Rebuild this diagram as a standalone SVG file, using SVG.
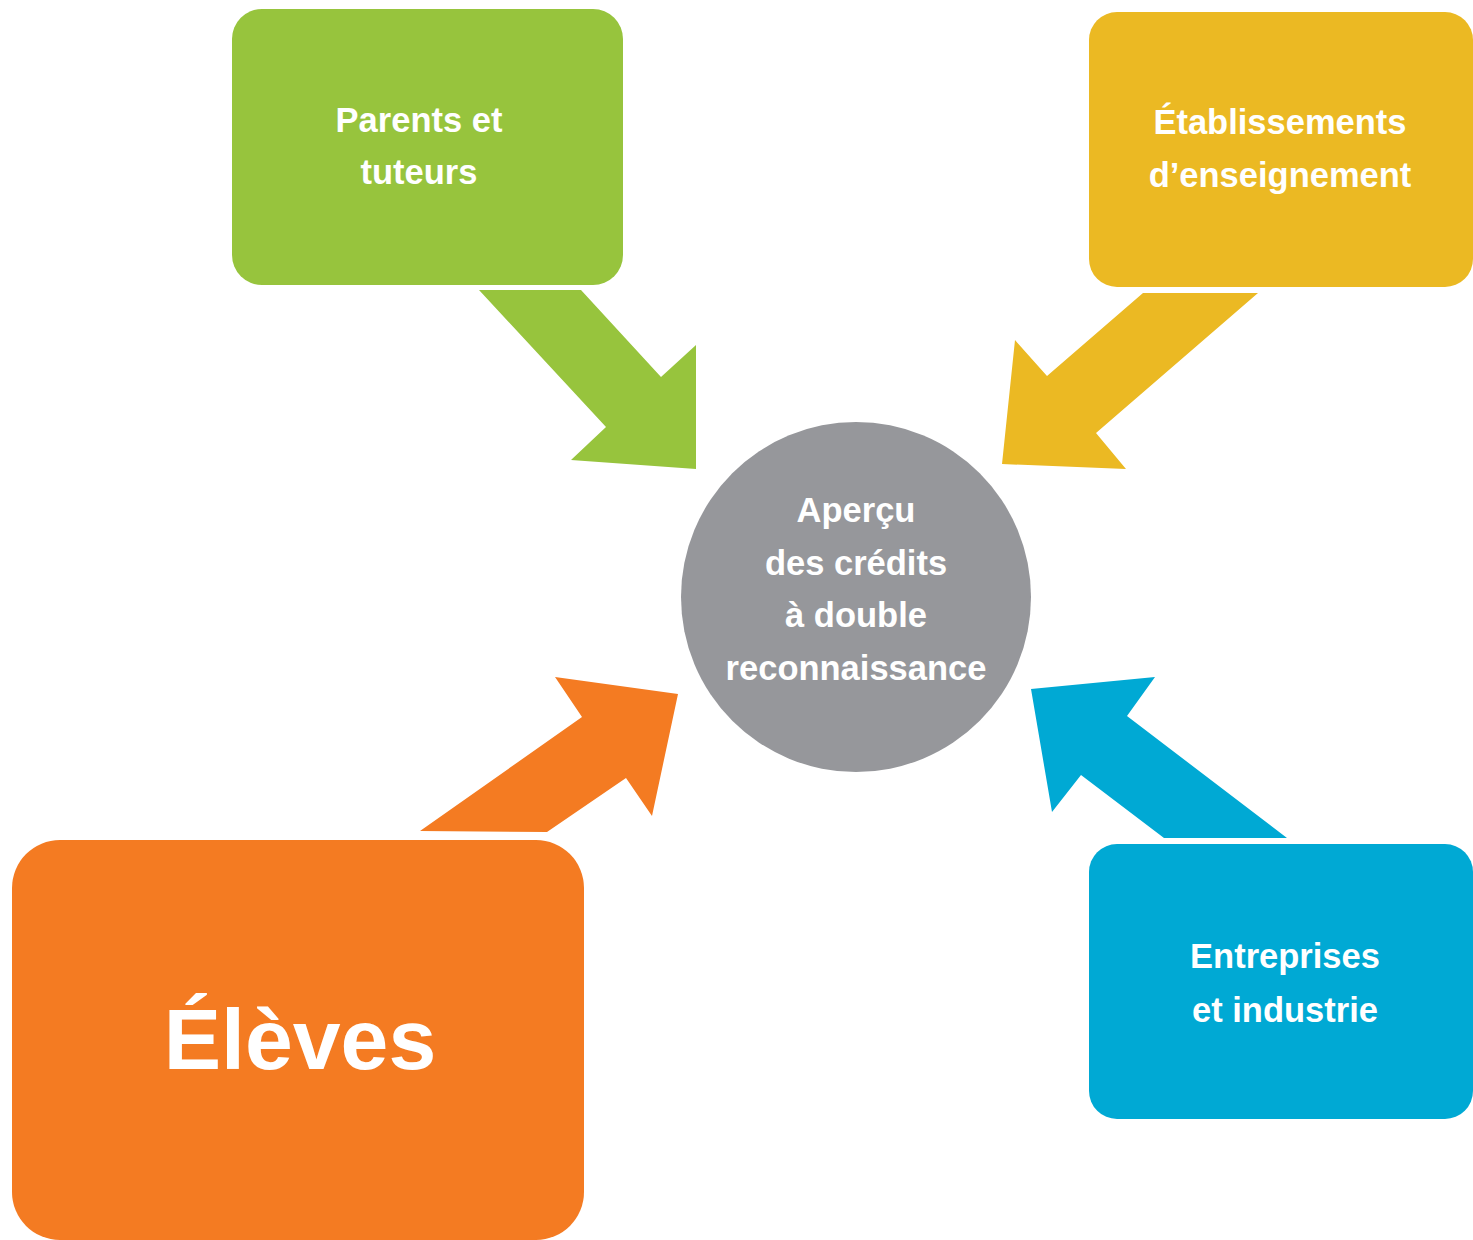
<svg xmlns="http://www.w3.org/2000/svg" width="1473" height="1240" viewBox="0 0 1473 1240">
  <style>
    .lbl { font-family: "Liberation Sans", Arial, sans-serif; font-weight: bold; fill: #ffffff; text-anchor: middle; font-size: 34.5px; }
    .big { font-size: 86px; }
  </style>
  <rect width="1473" height="1240" fill="#ffffff"/>
  <g id="connectors">
    <polygon id="arrow-parents" fill="#97C43D" points="479,290 581,290 661,377 696,345 696,469 571,460 606,427"/>
    <polygon id="arrow-etablissements" fill="#EBB923" points="1143,293 1258,293 1096,433 1126,469 1002,464 1015,340 1047,376"/>
    <polygon id="arrow-eleves" fill="#F47B22" points="420,831 547,832 626,778 652,816 678,694 555,677 582,717"/>
    <polygon id="arrow-entreprises" fill="#00A9D4" points="1287,838 1164,838 1081,775 1052,812 1031,689 1155,677 1127,716"/>
  </g>
  <g id="node-parents">
    <rect x="232" y="9" width="391" height="276" rx="30" fill="#97C43D"/>
    <text class="lbl" x="419" y="132">Parents et</text>
    <text class="lbl" x="419" y="184">tuteurs</text>
  </g>
  <g id="node-etablissements">
    <rect x="1089" y="12" width="384" height="275" rx="28" fill="#EBB923"/>
    <text class="lbl" x="1280" y="134">Établissements</text>
    <text class="lbl" x="1280" y="187">d’enseignement</text>
  </g>
  <g id="node-center">
    <circle cx="856" cy="597" r="175" fill="#96979B"/>
    <text class="lbl" x="856" y="522">Aperçu</text>
    <text class="lbl" x="856" y="575">des crédits</text>
    <text class="lbl" x="856" y="627">à double</text>
    <text class="lbl" x="856" y="680">reconnaissance</text>
  </g>
  <g id="node-entreprises">
    <rect x="1089" y="844" width="384" height="275" rx="28" fill="#00A9D4"/>
    <text class="lbl" x="1285" y="968">Entreprises</text>
    <text class="lbl" x="1285" y="1022">et industrie</text>
  </g>
  <g id="node-eleves">
    <rect x="12" y="840" width="572" height="400" rx="48" fill="#F47B22"/>
    <text class="lbl big" x="300" y="1069">Élèves</text>
  </g>
</svg>
